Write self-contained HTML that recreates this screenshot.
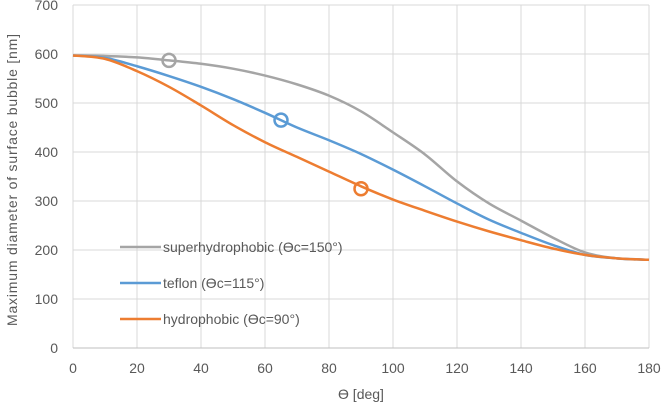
<!DOCTYPE html>
<html><head><meta charset="utf-8"><style>
body{margin:0;background:#fff;font-family:"Liberation Sans",sans-serif;}
svg text{fill:#595959;font-family:"Liberation Sans",sans-serif;}
</style></head><body>
<svg id="chart" width="664" height="406"></svg>
<script>
const xTicks=[0,20,40,60,80,100,120,140,160,180];
const yTicks=[0,100,200,300,400,500,600,700];
const xs=[0,10,20,30,40,50,60,70,80,90,100,110,120,130,140,150,160,170,180];
const grayV=[597,596,593,587,580,570,556,538,515,483,440,395,340,295,260,225,195,183,180];
const blueV=[597,592,575,555,533,508,480,450,424,396,364,330,295,262,235,210,190,183,180];
const orangeV=[597,590,565,533,495,455,420,390,360,330,303,280,258,238,220,203,190,183,180];
const markers=[{x:30,y:587,c:'#a5a5a5'},{x:65,y:465,c:'#5b9bd5'},{x:90,y:325,c:'#ed7d31'}];
const X=v=>73+v*(649-73)/180, Y=v=>348-v*(343/700);
const svg=document.getElementById('chart'),NS='http://www.w3.org/2000/svg';
function mk(t,a,p){const e=document.createElementNS(NS,t);for(const k in a)e.setAttribute(k,a[k]);(p||svg).appendChild(e);return e;}
xTicks.forEach(t=>{const l=mk('line',{x1:X(t),x2:X(t),y1:Y(700),y2:Y(0),stroke:'#d9d9d9'});
const tx=mk('text',{x:X(t),y:373,'text-anchor':'middle','font-size':14});tx.textContent=t;});
yTicks.forEach(t=>{const l=mk('line',{x1:X(0),x2:X(180),y1:Y(t),y2:Y(t),stroke:t==0?'#bfbfbf':'#d9d9d9'});
const tx=mk('text',{x:58,y:Y(t)+5,'text-anchor':'end','font-size':14});tx.textContent=t;});
function smooth(vals){const p=xs.map((x,i)=>[X(x),Y(vals[i])]);let d='M'+p[0];for(let i=0;i<p.length-1;i++){const a=p[i-1]||p[i],b=p[i],c=p[i+1],e=p[i+2]||c;d+=` C${b[0]+(c[0]-a[0])/6},${b[1]+(c[1]-a[1])/6} ${c[0]-(e[0]-b[0])/6},${c[1]-(e[1]-b[1])/6} ${c[0]},${c[1]}`;}return d;}
[[grayV,'#a5a5a5','series-superhydrophobic'],[blueV,'#5b9bd5','series-teflon'],[orangeV,'#ed7d31','series-hydrophobic']].forEach(s=>{const p=mk('path',{d:smooth(s[0]),fill:'none',stroke:s[1],'stroke-width':2.5});});
markers.forEach(m=>{const c=mk('circle',{cx:X(m.x),cy:Y(m.y),r:6.5,fill:'none',stroke:m.c,'stroke-width':2.5});});
[['superhydrophobic (ϴc=150°)','#a5a5a5',247],['teflon (ϴc=115°)','#5b9bd5',283],['hydrophobic (ϴc=90°)','#ed7d31',319]].forEach(l=>{const g=mk('g',{});
mk('line',{x1:120,x2:161,y1:l[2],y2:l[2],stroke:l[1],'stroke-width':2.5},g);const t=mk('text',{x:163,y:l[2]+5,'font-size':14},g);t.textContent=l[0];});
const xt=mk('text',{x:361,y:399,'text-anchor':'middle','font-size':14});xt.textContent='ϴ [deg]';
const yt=mk('text',{x:0,y:0,'text-anchor':'middle','font-size':14,textLength:292,transform:'translate(17,180) rotate(-90)'});yt.textContent='Maximum diameter of surface bubble  [nm]';
</script>
</body></html>
